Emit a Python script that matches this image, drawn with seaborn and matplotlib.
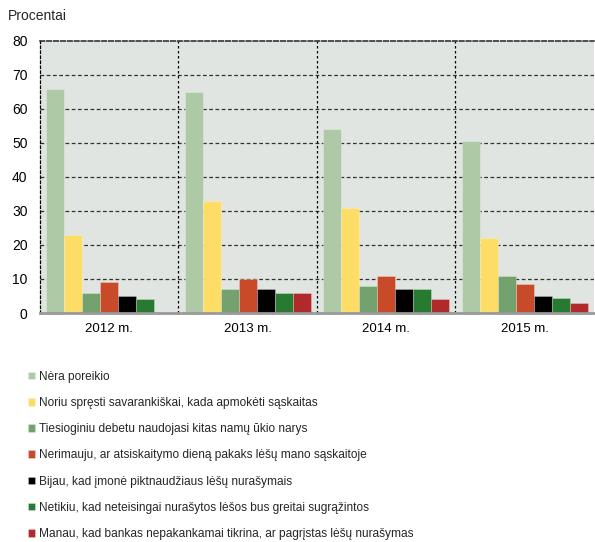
import numpy as np
import pandas as pd
import matplotlib
matplotlib.use("Agg")
import matplotlib.pyplot as plt
import seaborn as sns

years = ["2012 m.", "2013 m.", "2014 m.", "2015 m."]
reasons = [
    "Nėra poreikio",
    "Noriu spręsti savarankiškai, kada apmokėti sąskaitas",
    "Tiesioginiu debetu naudojasi kitas namų ūkio narys",
    "Nerimauju, ar atsiskaitymo dieną pakaks lėšų mano sąskaitoje",
    "Bijau, kad įmonė piktnaudžiaus lėšų nurašymais",
    "Netikiu, kad neteisingai nurašytos lėšos bus greitai sugrąžintos",
    "Manau, kad bankas nepakankamai tikrina, ar pagrįstas lėšų nurašymas",
]
colors = ["#adc9a6", "#fedd66", "#74a26e", "#c84a28", "#000000", "#277a30", "#b02a2c"]

# procentai pagal metus (2012 m. paskutinio atsakymo nebuvo)
v_2012 = [66, 23, 6, 9, 5, 4, np.nan]
v_2013 = [65, 33, 7, 10, 7, 6, 6]
v_2014 = [54, 31, 8, 11, 7, 7, 4]
v_2015 = [50.5, 22, 11, 8.5, 5, 4.5, 2.8]

rows = []
for yr, vals in zip(years, [v_2012, v_2013, v_2014, v_2015]):
    for r, v in zip(reasons, vals):
        if not np.isnan(v):
            rows.append({"metai": yr, "priezastis": r, "procentai": v})
df = pd.DataFrame(rows)

sns.set_theme(style="white")
plt.rcParams["font.family"] = ["Liberation Sans", "DejaVu Sans"]

fig = plt.figure(figsize=(5.95, 5.42), dpi=100)
ax = fig.add_axes([0.0672, 0.4225, 0.931, 0.502])
ax.set_facecolor("#e0e5e1")

sns.barplot(data=df, x="metai", y="procentai", hue="priezastis",
            order=years, hue_order=reasons, palette=colors, saturation=1,
            width=0.91, ax=ax, legend=True)
for p in ax.patches:
    p.set_edgecolor((1, 1, 1, 0.3))
    p.set_linewidth(0.6)

ax.set_ylim(0, 80)
ax.set_xlim(-0.5, 3.5)
ax.set_yticks(range(0, 81, 10))
ax.set_xlabel("")
ax.set_ylabel("")
ax.tick_params(axis="both", length=0, labelsize=9.5, colors="black")
ax.tick_params(axis="x", pad=7)
ax.tick_params(axis="y", pad=9, labelsize=10)

for yv in range(10, 80, 10):
    ax.axhline(yv, color="#333333", lw=0.9, ls=(0, (3, 2)), zorder=0.5)
for xv in [0.5, 1.5, 2.5]:
    ax.axvline(xv, color="black", lw=0.9, ls=(0, (2, 2)), zorder=0.5)

ax.spines["top"].set_linestyle((0, (3, 1.5)))
ax.spines["top"].set_color("#222222")
ax.spines["top"].set_linewidth(1.1)
ax.spines["left"].set_linestyle((0, (2, 2)))
ax.spines["left"].set_color("black")
ax.spines["left"].set_linewidth(0.9)
ax.spines["right"].set_visible(False)
ax.spines["bottom"].set_color("#999999")
ax.spines["bottom"].set_linewidth(2)

fig.text(0.013, 0.9705, "Procentai", fontsize=10, va="center", ha="left")

handles, labels = ax.get_legend_handles_labels()
ax.get_legend().remove()
fig.legend(handles, labels, loc="upper left", bbox_to_anchor=(0.047, 0.316),
           frameon=False, fontsize=8.6, ncol=1, handlelength=0.62,
           handleheight=0.62, handletextpad=0.3, labelspacing=1.19,
           borderaxespad=0, borderpad=0)

fig.savefig("out.png", dpi=100)
